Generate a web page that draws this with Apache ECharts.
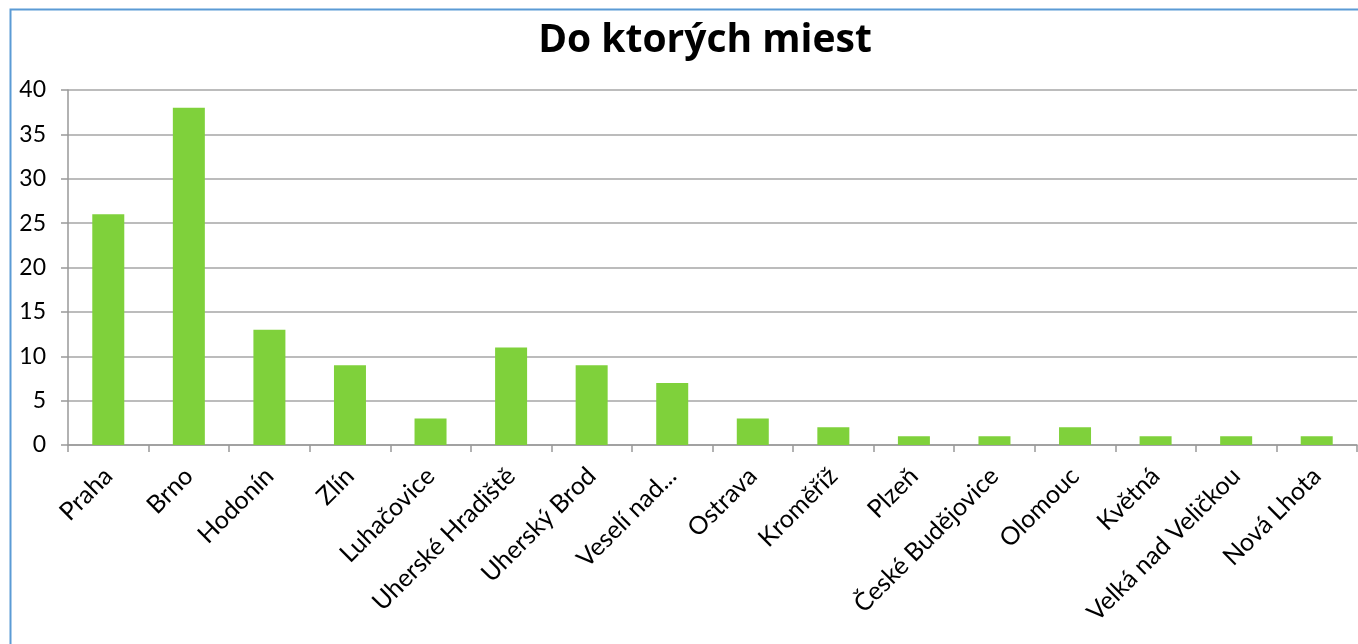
<!DOCTYPE html>
<html><head><meta charset="utf-8">
<script src="https://cdn.jsdelivr.net/npm/echarts@6/dist/echarts.min.js"></script>
<style>html,body{margin:0;padding:0;background:#fff}#c{width:1358px;height:644px}</style>
</head><body><div id="c"></div>
<script>
const categories = ["Praha","Brno","Hodonín","Zlín","Luhačovice","Uherské Hradiště","Uherský Brod","Veselí nad...","Ostrava","Kroměříž","Plzeň","České Budějovice","Olomouc","Květná","Velká nad Veličkou","Nová Lhota"];
const values = [26,38,13,9,3,11,9,7,3,2,1,1,2,1,1,1];
const titleText = "Do ktorých miest";
const chart = echarts.init(document.getElementById('c'), null, {renderer:'canvas'});
chart.setOption({
  animation:false,
  backgroundColor:'#fff',
  title:{text:titleText,left:700,top:16,textAlign:'center',
    textStyle:{fontFamily:'Open Sans, sans-serif',fontSize:39,fontWeight:'bold',color:'#000'}},
  graphic:[{type:'rect',shape:{x:10.5,y:9.5,width:1400,height:700},
    style:{fill:'none',stroke:'#5b9bd5',lineWidth:2},silent:true,z:-1}],
  grid:{left:68,right:1,top:90,bottom:199,containLabel:false},
  xAxis:{type:'category',data:categories,
    axisLine:{lineStyle:{color:'#999',width:1.5}},
    axisTick:{show:true,alignWithLabel:false,length:7,lineStyle:{color:'#999',width:1.5}},
    axisLabel:{interval:0,rotate:45,margin:27,color:'#000',fontSize:25,fontFamily:'Lato, sans-serif'}},
  yAxis:{type:'value',min:0,max:40,interval:5,
    axisLine:{show:true,lineStyle:{color:'#999',width:1.5}},
    axisTick:{show:true,length:7,lineStyle:{color:'#999',width:1.5}},
    splitLine:{lineStyle:{color:'#a6a6a6',width:1.5}},
    axisLabel:{margin:22,color:'#000',fontSize:23,fontFamily:'Lato, sans-serif'}},
  series:[{type:'bar',data:values,barWidth:32,itemStyle:{color:'#7fd13b'}}]
});
</script></body></html>
